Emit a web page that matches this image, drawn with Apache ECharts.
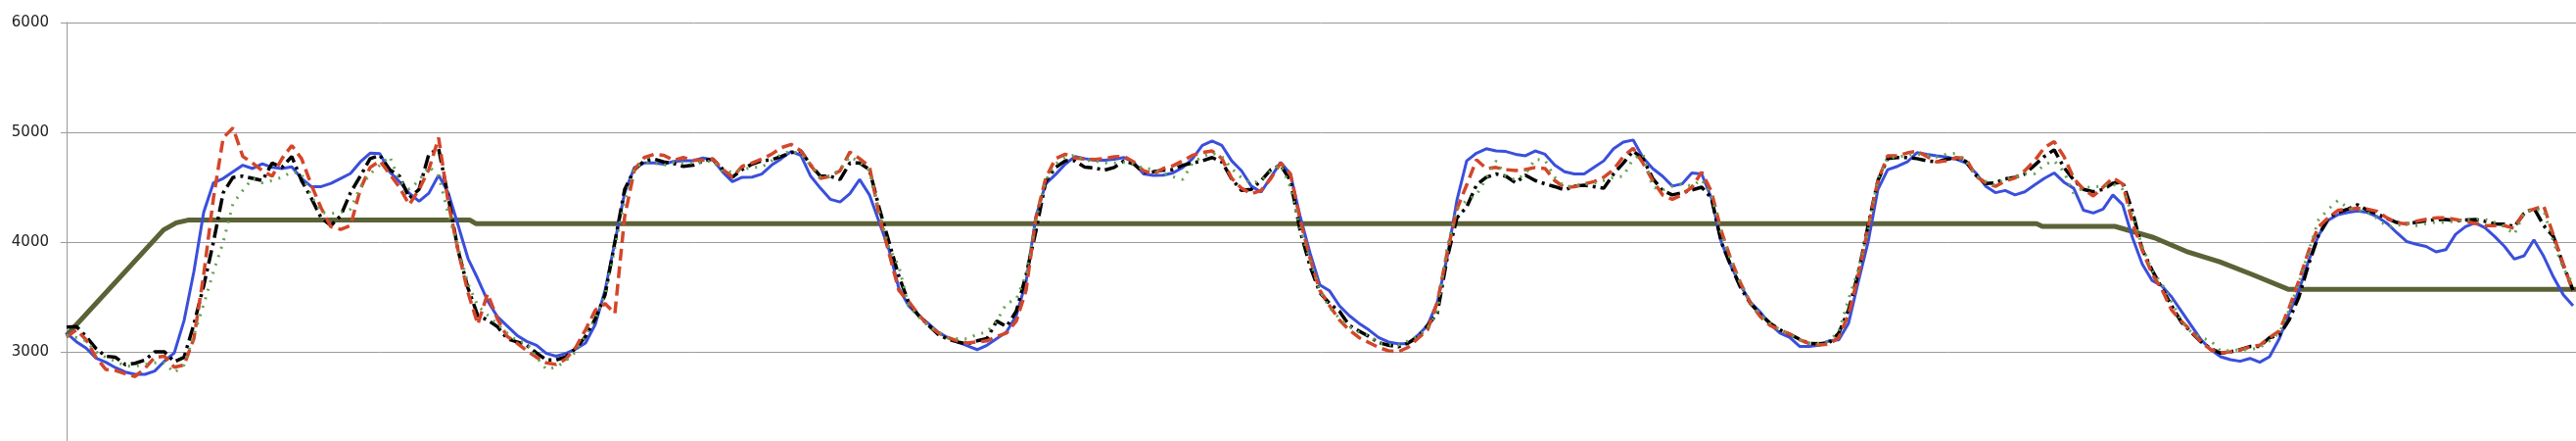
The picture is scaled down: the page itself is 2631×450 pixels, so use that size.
<!DOCTYPE html>
<html>
<head>
<meta charset="utf-8">
<script src="https://cdn.jsdelivr.net/npm/echarts@6/dist/echarts.min.js"></script>
<style>
html,body{margin:0;padding:0;background:#fff;}
#chart{width:2631px;height:450px;}
</style>
</head>
<body>
<div id="chart"></div>
<script>
// y ticks
var yTicks = [2000, 3000, 4000, 5000, 6000];

// sample index (one sample per step along x)
var blue = [
	3170,3092,3033,2943,2905,2855,2815,2795,2795,2825,2915,2990,3285,3730,4270,4540,4580,4640,4700,4670,4714,4680,4670,4685,4580,4505,4505,4535,4580,4625,4730,4810,4805,4640,4550,4445,4372,4445,4610,4445,4150,3850,3665,3465,
	3320,3235,3150,3095,3060,2985,2960,2985,3025,3080,3250,3560,4000,4450,4680,4720,4720,4710,4735,4741,4741,4765,4750,4640,4550,4590,4592,4620,4700,4760,4825,4790,4600,
	4490,4390,4365,4440,4570,4430,4180,3930,3580,3420,3330,3260,3180,3130,3090,3055,3020,3060,3120,3180,3330,3640,4230,4530,4615,4710,4780,4760,4745,4745,4755,4770,4725,4620,
	4607,4610,4630,4680,4760,4880,4920,4880,4740,4650,4510,4455,4590,4726,4620,4230,3900,3610,3555,3420,3330,3260,3200,3130,3090,3074,3074,3150,3240,3450,3860,4380,4740,4810,
	4850,4830,4825,4800,4786,4830,4800,4700,4640,4620,4620,4680,4740,4850,4910,4930,4770,4670,4600,4510,4530,4630,4620,4400,4000,3780,3600,3450,3360,3250,3170,3130,3050,3050,
	3060,3100,3110,3260,3640,4000,4480,4660,4690,4730,4815,4800,4786,4775,4755,4720,4630,4510,4450,4470,4430,4458,4520,4580,4630,4545,4490,4290,4265,4300,4430,4340,4040,3800,3650,3600,
	3500,3370,3240,3110,3020,2955,2929,2914,2940,2905,2955,3120,3350,3560,3830,4060,4200,4250,4270,4283,4270,4230,4170,4085,4005,3980,3960,3911,3930,4070,4140,4175,4130,4050,3960,3845,3875,4020,3870,3680,3520,3420
];
var black = [
	3226,3230,3140,3030,2960,2950,2884,2895,2925,3000,3000,2910,2950,3250,3600,4000,4450,4590,4600,4580,4560,4720,4680,4780,4560,4400,4220,4150,4240,4450,4600,4760,4790,4660,4600,4400,4480,4800,4850,4400,3920,3580,3330,3290,
	3230,3120,3090,3060,2990,2926,2926,2955,3030,3140,3300,3520,4000,4480,4660,4740,4756,4730,4715,4690,4700,4740,4756,4665,4590,4660,4710,4740,4750,4780,4815,4830,4700,
	4600,4600,4570,4720,4720,4660,4310,4000,3690,3450,3335,3245,3160,3115,3090,3072,3100,3120,3280,3230,3370,3700,4100,4550,4680,4740,4740,4682,4675,4655,4680,4740,4710,4635,
	4640,4655,4660,4700,4720,4740,4770,4730,4575,4470,4480,4560,4660,4700,4560,4100,3780,3540,3440,3370,3240,3190,3140,3085,3060,3045,3080,3130,3240,3350,3850,4220,4320,4520,
	4590,4620,4600,4540,4610,4560,4530,4505,4475,4510,4518,4505,4490,4620,4720,4830,4760,4580,4470,4430,4450,4475,4500,4400,4000,3780,3580,3440,3340,3260,3200,3160,3115,3075,
	3074,3080,3170,3380,3720,4150,4560,4760,4771,4771,4760,4740,4730,4755,4765,4735,4610,4533,4540,4575,4590,4620,4700,4780,4840,4680,4565,4480,4458,4480,4535,4545,4280,3930,3745,3580,
	3420,3270,3180,3090,3030,2988,3000,3020,3048,3050,3130,3150,3290,3500,3800,4060,4220,4270,4300,4340,4290,4255,4215,4178,4165,4180,4195,4205,4205,4195,4200,4205,4190,4165,4164,4140,4260,4310,4150,4050,3790,3560
];
var red = [
	3135,3200,3110,2950,2840,2830,2800,2775,2850,2950,2960,2860,2880,3120,3700,4400,4950,5040,4780,4720,4650,4600,4760,4880,4760,4520,4310,4140,4115,4150,4480,4680,4740,4620,4500,4340,4480,4660,4950,4350,3920,3540,3250,3530,
	3300,3140,3080,3010,2950,2900,2885,2935,3040,3200,3380,3440,3350,4230,4660,4770,4800,4790,4745,4770,4745,4745,4756,4665,4590,4690,4720,4756,4800,4860,4890,4830,4700,
	4580,4600,4650,4820,4760,4690,4240,3900,3560,3460,3340,3240,3175,3130,3100,3080,3090,3100,3140,3170,3280,3560,4220,4580,4760,4800,4765,4756,4752,4760,4776,4780,4730,4650,
	4620,4670,4695,4740,4790,4815,4830,4760,4580,4490,4440,4470,4580,4720,4620,4200,3850,3560,3420,3290,3200,3130,3085,3040,3010,3000,3040,3120,3200,3450,3900,4300,4520,4750,
	4670,4680,4660,4652,4660,4680,4670,4560,4495,4505,4530,4550,4590,4660,4780,4855,4720,4560,4430,4390,4430,4500,4637,4460,4100,3840,3620,3440,3320,3240,3200,3160,3110,3075,
	3062,3070,3130,3340,3700,4130,4560,4786,4786,4812,4828,4780,4730,4740,4771,4760,4600,4540,4508,4555,4585,4650,4740,4860,4915,4780,4580,4480,4420,4500,4585,4530,4180,3930,3710,3570,
	3380,3280,3190,3090,3020,2990,3000,3018,3045,3060,3130,3190,3400,3650,3920,4140,4220,4290,4298,4308,4300,4280,4220,4175,4165,4190,4208,4220,4220,4205,4190,4170,4150,4149,4149,4125,4270,4300,4330,4060,3800,3550
];
var green = [
	3150,3130,3100,3000,2950,2915,2870,2870,2885,2900,2900,2810,2880,3150,3430,3730,4000,4350,4470,4580,4540,4560,4590,4640,4620,4420,4270,4260,4270,4300,4500,4620,4700,4780,4560,4480,4560,4690,4600,4250,3950,3620,3420,3335,
	3250,3170,3100,3080,2950,2840,2860,2920,3000,3150,3300,3520,3950,4380,4680,4720,4720,4700,4726,4726,4720,4730,4740,4640,4640,4660,4680,4682,4740,4800,4830,4800,4695,
	4590,4600,4660,4780,4728,4650,4270,3950,3780,3420,3320,3240,3185,3125,3120,3119,3160,3180,3280,3440,3480,3700,4200,4560,4710,4771,4795,4745,4741,4720,4720,4725,4710,4670,
	4665,4625,4595,4570,4720,4780,4810,4780,4670,4585,4535,4560,4650,4705,4500,4120,3830,3560,3400,3305,3230,3180,3150,3080,3065,3060,3100,3140,3220,3360,3950,4300,4380,4430,
	4580,4740,4600,4565,4620,4755,4745,4590,4505,4512,4525,4533,4560,4590,4600,4760,4800,4500,4473,4510,4530,4510,4570,4420,4080,3830,3620,3450,3340,3260,3200,3160,3110,3080,
	3078,3100,3180,3480,3750,4100,4580,4771,4771,4795,4800,4790,4775,4800,4810,4735,4600,4555,4515,4585,4590,4622,4622,4705,4740,4640,4440,4495,4503,4510,4530,4480,4250,3960,3740,3620,
	3460,3280,3180,3130,3100,3010,3012,3018,3018,3040,3100,3170,3380,3630,3920,4200,4300,4380,4310,4290,4268,4215,4140,4150,4170,4150,4170,4179,4179,4190,4208,4208,4208,4180,4140,4070,4265,4298,4290,4000,3760,3620
];
// olive line: breakpoints (sample index, value)
var oliveT = [0, 9.9, 11.2, 12.4, 41.2, 41.8, 201.2, 201.8, 209.2, 213.2, 216.5, 219.9, 223.2, 226.9, 256.3];
var oliveV = [3150, 4110, 4175, 4200, 4200, 4168, 4168, 4143, 4143, 4040, 3915, 3820, 3705, 3570, 3570];

function pairs(arr) {
	var out = [];
	for (var i = 0; i < arr.length; i++) out.push([i, arr[i]]);
	return out;
}
function olivePairs() {
	var out = [];
	for (var i = 0; i < oliveT.length; i++) out.push([oliveT[i], oliveV[i]]);
	return out;
}

var chart = echarts.init(document.getElementById('chart'));
chart.setOption({
	animation: false,
	backgroundColor: '#fff',
	grid: { left: 68, right: 0, top: 23, height: 448, outerBoundsMode: 'none', containLabel: false },
	xAxis: {
		type: 'value', min: 0, max: 256.3, show: false
	},
	yAxis: {
		type: 'value',
		min: yTicks[0], max: yTicks[yTicks.length - 1], interval: 1000,
		axisLine: { show: true, lineStyle: { color: '#9a9a9a', width: 1 } },
		axisTick: { show: true, length: 6, lineStyle: { color: '#9a9a9a', width: 1 } },
		splitLine: { show: true, lineStyle: { color: '#9a9a9a', width: 1 } },
		axisLabel: {
			margin: 18, fontSize: 15, fontFamily: 'DejaVu Sans', color: '#222',
			formatter: function (v) { return String(v); }
		}
	},
	series: [
		{ type: 'line', data: olivePairs(), symbol: 'none', lineStyle: { color: '#5b6236', width: 5 } },
		{ type: 'line', data: pairs(blue), symbol: 'none', lineStyle: { color: '#3a4fdc', width: 3 } },
		{ type: 'line', data: pairs(black), symbol: 'none', lineStyle: { color: '#000', width: 3.5, type: [14, 5, 3, 5] } },
		{ type: 'line', data: pairs(red), symbol: 'none', lineStyle: { color: '#d4462a', width: 3.5, type: [12, 6] } },
		{ type: 'line', data: pairs(green), symbol: 'none', lineStyle: { color: '#62a352', width: 3, type: [2, 7] } }
	]
});
</script>
</body>
</html>
